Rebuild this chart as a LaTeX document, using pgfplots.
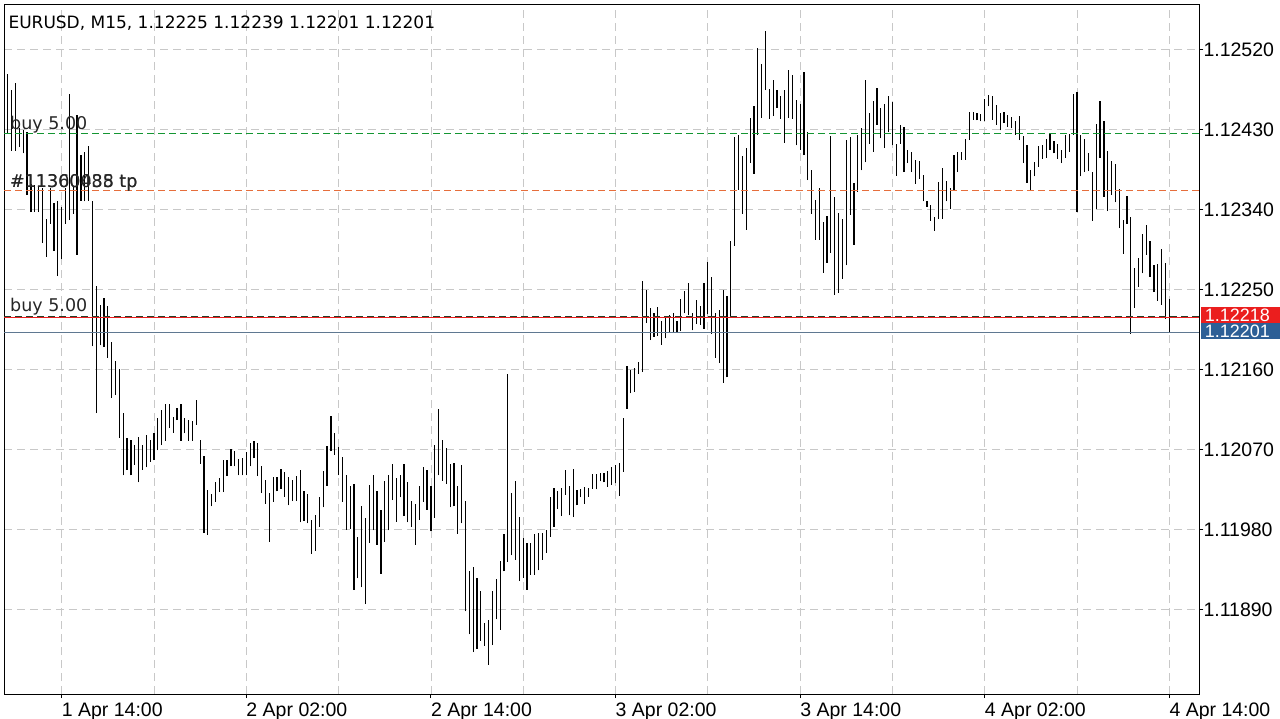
\documentclass[border=0pt]{standalone}
\usepackage{fontspec}
\setmainfont{Liberation Sans}
\newfontfamily\dejavu{DejaVu Sans}
\usepackage{pgfplots}
\pgfplotsset{compat=1.18}
\usepackage{pgfplotstable}

\definecolor{gridgray}{RGB}{200,200,200}
\definecolor{buygreen}{RGB}{20,150,50}
\definecolor{tporange}{RGB}{230,110,60}
\definecolor{bidred}{RGB}{235,30,30}
\definecolor{boxblue}{RGB}{45,95,150}
\definecolor{lineblue}{RGB}{95,120,145}
\definecolor{darkdash}{RGB}{40,60,40}

% EURUSD M15 bars: t = bar index (0 = 1 Apr 14:00, 4 bars per hour)
% H, L = high and low in points above 1.12000 (1 point = 0.00001)
\pgfplotstableread{
t H L
-14 492 425
-13 474 406
-12 482 406
-11 431 410
-10 429 403
-9 427 356
-8 369 337
-7 367 337
-6 365 337
-5 364 302
-4 329 287
-3 364 324
-2 347 293
-1 350 265
0 343 284
1 364 324
2 470 328
3 365 335
4 446 289
5 401 350
6 405 349
7 411 350
8 350 186
9 254 111
10 232 187
11 240 185
12 231 173
13 191 128
14 170 131
15 161 83
16 111 41
17 83 47
18 81 41
19 75 53
20 84 33
21 75 47
22 86 50
23 81 56
24 89 58
25 105 69
26 114 75
27 121 80
28 121 94
29 107 89
30 117 103
31 121 80
32 105 88
33 103 80
34 102 80
35 126 98
36 81 54
37 63 -24
38 24 -26
39 20 6
40 33 11
41 38 22
42 58 22
43 58 40
44 71 51
45 68 51
46 59 41
47 60 41
48 67 41
49 77 51
50 80 60
51 77 40
52 51 21
53 36 9
54 21 -34
55 39 11
56 39 23
57 48 26
58 45 17
59 39 7
60 36 12
61 40 12
62 47 -12
63 23 -10
64 20 -13
65 -9 -47
66 -4 -44
67 17 -17
68 46 5
69 74 29
70 108 68
71 88 64
72 73 41
73 62 11
74 41 -20
75 29 -19
76 31 -88
77 -28 -75
78 6 -85
79 -7 -104
80 30 -35
81 41 -21
82 23 -37
83 2 -70
84 34 -34
85 41 -21
86 54 13
87 38 -11
88 41 16
89 54 -5
90 33 -12
91 12 -17
92 9 -37
93 29 -9
94 50 11
95 47 2
96 29 -22
97 75 -7
98 115 41
99 81 35
100 72 31
101 54 5
102 55 6
103 29 -25
104 52 -13
105 12 -112
106 -67 -138
107 -62 -158
108 -75 -154
109 -89 -145
110 -125 -151
111 -122 -172
112 -89 -150
113 -76 -121
114 -55 -133
115 -25 -67
116 155 -56
117 21 -49
118 35 -54
119 -6 -78
120 -30 -74
121 -35 -88
122 -35 -71
123 -25 -71
124 -24 -66
125 -24 -54
126 -21 -46
127 17 -28
128 27 -17
129 23 3
130 27 -5
131 47 19
132 29 -4
133 48 -6
134 24 7
135 26 16
136 28 9
137 27 17
138 42 26
139 42 25
140 44 34
141 43 33
142 46 28
143 50 30
144 52 32
145 55 18
146 105 45
147 164 116
148 159 133
149 162 135
150 168 155
151 259 157
152 249 212
153 229 193
154 224 197
155 230 198
156 214 188
157 218 195
158 221 202
159 224 202
160 214 202
161 239 203
162 248 223
163 257 221
164 224 204
165 238 211
166 231 210
167 257 206
168 281 222
169 264 200
170 223 173
171 227 167
172 249 145
173 243 151
174 304 219
175 421 299
176 424 362
177 400 335
178 409 317
179 443 392
180 456 380
181 522 424
182 503 443
183 541 474
184 475 442
185 485 445
186 474 454
187 467 442
188 474 415
189 497 443
190 491 442
191 463 412
192 459 407
193 494 401
194 427 373
195 384 335
196 351 306
197 364 306
198 326 269
199 333 280
200 423 291
201 354 244
202 336 246
203 329 262
204 418 277
205 421 334
206 370 300
207 424 360
208 432 384
209 485 393
210 448 414
211 462 405
212 476 435
213 454 420
214 458 409
215 467 427
216 461 412
217 414 378
218 435 414
219 433 382
220 407 392
221 405 382
222 395 369
223 394 374
224 379 349
225 350 343
226 345 327
227 332 316
228 371 329
229 386 329
230 372 349
231 364 341
232 401 362
233 404 382
234 405 396
235 419 396
236 449 418
237 450 441
238 448 440
239 447 439
240 464 439
241 469 456
242 467 441
243 457 435
244 448 429
245 449 437
246 446 433
247 444 431
248 439 424
249 445 418
250 423 392
251 412 370
252 384 362
253 393 377
254 411 388
255 412 397
256 419 398
257 425 407
258 417 403
259 413 397
260 407 392
261 424 398
262 425 405
263 470 424
264 472 337
265 424 377
266 419 382
267 403 383
268 382 327
269 436 340
270 462 398
271 439 354
272 406 338
273 394 356
274 391 348
275 363 319
276 328 290
277 355 324
278 332 200
279 274 229
280 285 253
281 312 268
282 322 289
283 304 264
284 278 247
285 279 237
286 295 233
287 280 217
288 239 201
}\bars

\begin{document}
\begin{tikzpicture}
\path[use as bounding box] (-4bp,-25bp) rectangle (1276bp,694bp);
\begin{axis}[
  at={(0,0)}, anchor=south west,
  width=1195.3bp, height=690bp, scale only axis,
  xmin=-15, xmax=295.8, ymin=-205, ymax=571,
  clip=false,
  axis line style={black, line width=0.9bp},
  xtick={0,48,...,288},
  minor xtick={24,72,...,264},
  xticklabels={1 Apr 14:00, 2 Apr 02:00, 2 Apr 14:00, 3 Apr 02:00, 3 Apr 14:00, 4 Apr 02:00, 4 Apr 14:00},
  ytick={-110,-20,70,160,250,340,430,520},
  yticklabels={1.11890,1.11980,1.12070,1.12160,1.12250,1.12340,1.12430,1.12520},
  xtick pos=bottom, ytick pos=right, tick align=outside,
  major tick length=4bp, minor tick length=0pt,
  tick style={black, line width=0.9bp},
  grid=both,
  major grid style={gridgray, line width=0.8bp, dash pattern=on 8bp off 5bp},
  minor grid style={gridgray, line width=0.8bp, dash pattern=on 8bp off 5bp},
  ticklabel style={font=\fontsize{19.5bp}{22bp}\selectfont},
  xticklabel style={anchor=north west, inner sep=0pt, yshift=-5bp},
  yticklabel style={anchor=west, inner sep=0pt, xshift=0bp},
]
% high-low bars
\addplot[draw=none, mark=none, forget plot,
  error bars/.cd, y dir=plus, y explicit, error mark=none,
  error bar style={black, line width=1.2bp}]
  table[x=t, y=L, y error plus expr=\thisrow{H}-\thisrow{L}] {\bars};

% order levels
\addplot[color=buygreen, mark=none, line width=1.2bp, dash pattern=on 7bp off 4bp] coordinates {(-15,425) (295.8,425)};
\addplot[color=tporange, mark=none, line width=1bp, dash pattern=on 7bp off 4bp] coordinates {(-15,361) (295.8,361)};
\addplot[color=lineblue, mark=none, line width=1bp] coordinates {(-15,201) (295.8,201)};
\addplot[color=bidred, mark=none, line width=1bp] coordinates {(-15,218) (295.8,218)};
\addplot[color=darkdash, mark=none, line width=1bp, dash pattern=on 7bp off 4bp] coordinates {(-15,220) (295.8,220)};

% labels
\node[anchor=base west, inner sep=0pt, font=\dejavu\fontsize{17bp}{20bp}\selectfont]
  at (axis cs:-13.88,544) {EURUSD, M15, 1.12225 1.12239 1.12201 1.12201};
\node[anchor=base west, inner sep=0pt, text=black!85, font=\dejavu\fontsize{17.5bp}{20bp}\selectfont]
  at (axis cs:-13.44,430) {buy 5.00};
\node[anchor=base west, inner sep=0pt, text=black!85, font=\dejavu\fontsize{17.5bp}{20bp}\selectfont]
  at (axis cs:-13.44,365) {\#11360488 tp};
\node[anchor=base west, inner sep=0pt, text=black!85, font=\dejavu\fontsize{17.5bp}{20bp}\selectfont]
  at (axis cs:-13.44,365) {\#11300035 tp};
\node[anchor=base west, inner sep=0pt, text=black!85, font=\dejavu\fontsize{17.5bp}{20bp}\selectfont]
  at (axis cs:-13.44,225) {buy 5.00};

% price boxes on the right
\fill[bidred] (axis cs:296.2,230.4) rectangle (axis cs:316.8,212.4);
\fill[boxblue] (axis cs:296.2,212.4) rectangle (axis cs:316.8,193.8);
\node[anchor=west, inner sep=0pt, text=white, font=\fontsize{18bp}{20bp}\selectfont]
  at (axis cs:297.2,221.4) {1.12218};
\node[anchor=west, inner sep=0pt, text=white, font=\fontsize{18bp}{20bp}\selectfont]
  at (axis cs:297.2,203.1) {1.12201};
\end{axis}
\end{tikzpicture}
\end{document}
